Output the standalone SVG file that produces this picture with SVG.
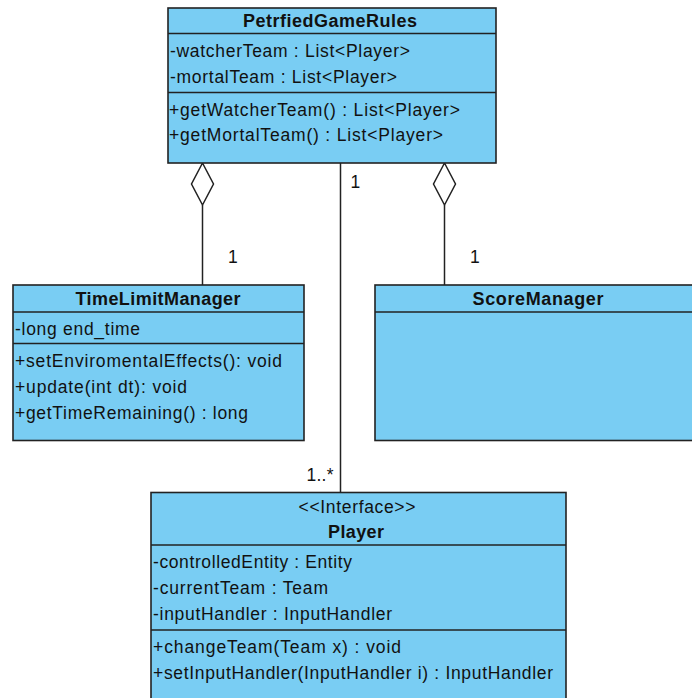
<svg xmlns="http://www.w3.org/2000/svg" width="692" height="698" viewBox="0 0 692 698">
  <style>
    .box { fill: #79cdf3; stroke: #222; stroke-width: 1.6; }
    .div { stroke: #222; stroke-width: 1.6; }
    .t { font-family: "Liberation Sans", Arial, sans-serif; font-size: 17.5px; fill: #111; }
    .b { font-family: "Liberation Sans", Arial, sans-serif; font-size: 18px; font-weight: bold; fill: #111; text-anchor: middle; }
    .c { text-anchor: middle; }
    .edge { fill: none; stroke: #222; stroke-width: 1.5; }
    .diamond { fill: #fff; stroke: #222; stroke-width: 1.5; }
  </style>
  <rect width="692" height="698" fill="#fff"/>

  <!-- associations -->
  <g id="connectors">
    <line class="edge" x1="202.5" y1="205" x2="202.5" y2="285"/>
    <polygon class="diamond" points="202.5,163 213.5,184 202.5,205 191.5,184"/>
    <line class="edge" x1="444.5" y1="205" x2="444.5" y2="285"/>
    <polygon class="diamond" points="444.5,163 455.5,184 444.5,205 433.5,184"/>
    <line class="edge" x1="340.5" y1="163" x2="340.5" y2="492"/>
    <text class="t" x="350.5" y="188">1</text>
    <text class="t" x="228" y="263">1</text>
    <text class="t" x="470" y="263">1</text>
    <text class="t" x="306.5" y="481" textLength="27" lengthAdjust="spacing">1..*</text>
  </g>

  <!-- PetrfiedGameRules -->
  <g id="PetrfiedGameRules">
    <rect class="box" x="168" y="8" width="328" height="155"/>
    <line class="div" x1="168" y1="33.5" x2="496" y2="33.5"/>
    <line class="div" x1="168" y1="92.5" x2="496" y2="92.5"/>
    <text class="b" x="330" y="27" textLength="174" lengthAdjust="spacing">PetrfiedGameRules</text>
    <text class="t" x="170" y="57" textLength="240" lengthAdjust="spacing">-watcherTeam : List&lt;Player&gt;</text>
    <text class="t" x="170" y="83" textLength="227" lengthAdjust="spacing">-mortalTeam : List&lt;Player&gt;</text>
    <text class="t" x="169" y="115.5" textLength="291" lengthAdjust="spacing">+getWatcherTeam() : List&lt;Player&gt;</text>
    <text class="t" x="169" y="141" textLength="274" lengthAdjust="spacing">+getMortalTeam() : List&lt;Player&gt;</text>
  </g>

  <!-- TimeLimitManager -->
  <g id="TimeLimitManager">
    <rect class="box" x="13" y="285" width="291" height="155.5"/>
    <line class="div" x1="13" y1="312" x2="304" y2="312"/>
    <line class="div" x1="13" y1="343.5" x2="304" y2="343.5"/>
    <text class="b" x="158" y="305" textLength="165" lengthAdjust="spacing">TimeLimitManager</text>
    <text class="t" x="15" y="335" textLength="125" lengthAdjust="spacing">-long end_time</text>
    <text class="t" x="15" y="367" textLength="267" lengthAdjust="spacing">+setEnviromentalEffects(): void</text>
    <text class="t" x="15" y="393" textLength="172" lengthAdjust="spacing">+update(int dt): void</text>
    <text class="t" x="15" y="419" textLength="233" lengthAdjust="spacing">+getTimeRemaining() : long</text>
  </g>

  <!-- ScoreManager -->
  <g id="ScoreManager">
    <rect class="box" x="375" y="285" width="326" height="155.5"/>
    <line class="div" x1="375" y1="312" x2="701" y2="312"/>
    <text class="b" x="538" y="305" textLength="131" lengthAdjust="spacing">ScoreManager</text>
  </g>

  <!-- Player interface -->
  <g id="Player">
    <rect class="box" x="151" y="492.5" width="415" height="220"/>
    <line class="div" x1="151" y1="545" x2="566" y2="545"/>
    <line class="div" x1="151" y1="630" x2="566" y2="630"/>
    <text class="t c" x="357" y="512.5" textLength="117" lengthAdjust="spacing">&lt;&lt;Interface&gt;&gt;</text>
    <text class="b" x="356" y="537.5" textLength="56" lengthAdjust="spacing">Player</text>
    <text class="t" x="153" y="568" textLength="199" lengthAdjust="spacing">-controlledEntity : Entity</text>
    <text class="t" x="153" y="594" textLength="175" lengthAdjust="spacing">-currentTeam : Team</text>
    <text class="t" x="153" y="620" textLength="239" lengthAdjust="spacing">-inputHandler : InputHandler</text>
    <text class="t" x="153" y="652.5" textLength="248" lengthAdjust="spacing">+changeTeam(Team x) : void</text>
    <text class="t" x="153" y="678.5" textLength="400" lengthAdjust="spacing">+setInputHandler(InputHandler i) : InputHandler</text>
  </g>
</svg>
